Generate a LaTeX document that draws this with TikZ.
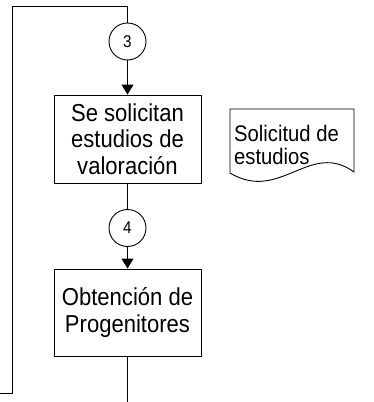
\documentclass[tikz,border=0pt]{standalone}
\usepackage{fontspec}
\setmainfont{Liberation Sans}
\newfontfamily\narrowsans[FakeStretch=0.9]{Liberation Sans}
\usetikzlibrary{arrows.meta}
\begin{document}
\begin{tikzpicture}[x=1pt,y=1pt,
  conn/.style={draw=black,line width=0.9pt},
  arr/.style={conn,-{Triangle[length=10pt,width=12pt]}},
  procbox/.style={draw=black,line width=0.9pt,rectangle,minimum width=147pt,minimum height=87pt,inner sep=0pt,align=center,font=\narrowsans\fontsize{24.5}{26.5}\selectfont},
  conncircle/.style={draw=black,line width=0.9pt,circle,minimum size=37pt,inner sep=0pt,font=\narrowsans\fontsize{17}{18}\selectfont}
]
\useasboundingbox (0,0) rectangle (373,-402);
\node[conncircle] (c3) at (127.5,-41.5) {3};
\node[procbox,minimum height=88pt] (b1) at (127.5,-139) {Se solicitan\\estudios de\\valoración};
\node[conncircle] (c4) at (127.5,-228) {4};
\node[procbox] (b2) at (127.5,-312.5) {Obtención de\\Progenitores};
\coordinate (p0) at (0,-393);
\coordinate (p1) at (12,-6);
\coordinate (pend) at (127.5,-402);
\draw[conn] (p0) -| (p1) -| (c3.north);
\draw[arr] (c3.south) -- (b1.north);
\draw[conn] (b1.south) -- (c4.north);
\draw[arr] (c4.south) -- (b2.north);
\draw[conn] (b2.south) -- (pend);
% document shape
\draw[line width=0.9pt] (230,-109) -- (354,-109) -- (354,-172)
  .. controls (310,-140) and (280,-203) .. (230,-173) -- cycle;
\node[anchor=base west,inner sep=0pt,align=left,font=\narrowsans\fontsize{22.5}{22.6}\selectfont] (doctext) at (234,-164.3) {Solicitud de\\estudios};
\end{tikzpicture}
\end{document}
